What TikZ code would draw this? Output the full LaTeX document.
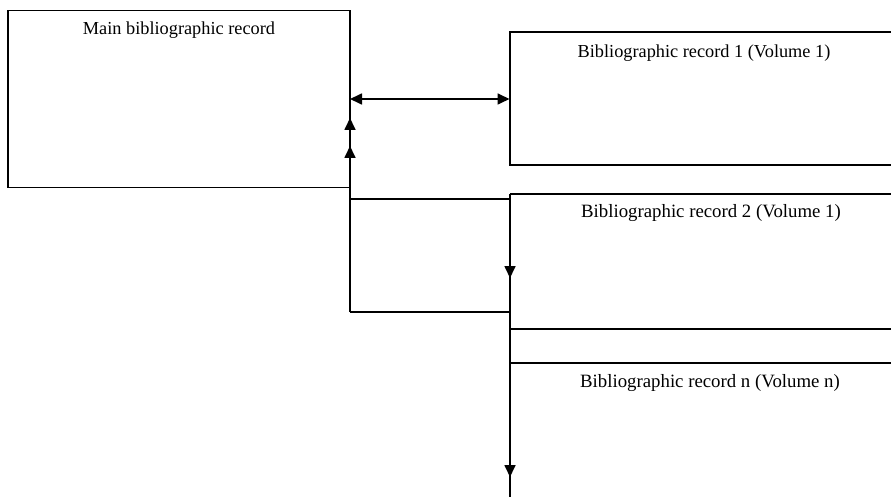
\documentclass[tikz,border=0pt]{standalone}
\usepackage{fontspec}
\setmainfont{Liberation Serif}
\usetikzlibrary{arrows.meta}
\begin{document}
\begin{tikzpicture}[x=1pt,y=-1pt,
  line/.style={line width=1.7pt},
  tip/.style={line width=1.7pt,-{Triangle[length=12pt,width=11pt]}},
  dtip/.style={line width=1.7pt,{Triangle[length=12pt,width=11pt]}-{Triangle[length=12pt,width=11pt]}},
  lbl/.style={anchor=base,inner sep=0pt,font=\fontsize{18.3pt}{22pt}\selectfont},
  lblb/.style={anchor=base,inner sep=0pt,font=\fontsize{18.8pt}{22pt}\selectfont}]
\useasboundingbox[fill=white] (0,0) rectangle (891,497);
% main box
\node[draw,line width=1.7pt,minimum width=342pt,minimum height=177pt,inner sep=0pt,outer sep=0pt] (main) at (179,99) {};
\node[lbl] (mainlbl) at (179,35) {Main bibliographic record};
% box 1
\coordinate (b1tl) at (510,32);
\coordinate (b1tr) at (891,32);
\coordinate (b1bl) at (510,165);
\coordinate (b1br) at (891,165);
\draw[line] (b1tr) -- (b1tl) -- (b1bl) -- (b1br);
\node[lbl] (b1lbl) at (704,57.5) {Bibliographic record 1 (Volume 1)};
% box 2
\coordinate (b2tl) at (510,194);
\coordinate (b2tr) at (891,194);
\coordinate (b2bl) at (510,329);
\coordinate (b2br) at (891,329);
\draw[line] (b2tl) -- (b2tr);
\draw[line] (b2bl) -- (b2br);
\node[lblb] (b2lbl) at (711,217.7) {Bibliographic record 2 (Volume 1)};
% box n
\coordinate (bntl) at (510,363);
\coordinate (bntr) at (891,363);
\draw[line] (bntl) -- (bntr);
\node[lblb] (bnlbl) at (710,387.7) {Bibliographic record n (Volume n)};
% double arrow
\coordinate (dl) at (350,99);
\coordinate (dr) at (509.5,99);
\draw[dtip] (dl) -- (dr);
% vertical at main right side
\coordinate (vtop) at (350,99);
\coordinate (vbot) at (350,312);
\draw[line] (vbot) -- (vtop);
\coordinate (ua1s) at (350,132);
\coordinate (ua1e) at (350,118);
\coordinate (ua2s) at (350,160);
\coordinate (ua2e) at (350,146);
\draw[tip] (ua1s) -- (ua1e);
\draw[tip] (ua2s) -- (ua2e);
% connectors to the right vertical
\coordinate (c1l) at (350,199);
\coordinate (c1r) at (510,199);
\coordinate (c2l) at (350,312);
\coordinate (c2r) at (510,312);
\draw[line] (c1l) -- (c1r);
\draw[line] (c2l) -- (c2r);
% right vertical
\coordinate (rbot) at (510,497);
\draw[line] (b2tl) -- (rbot);
\coordinate (da1s) at (510,262);
\coordinate (da1e) at (510,278);
\coordinate (da2s) at (510,462);
\coordinate (da2e) at (510,477);
\draw[tip] (da1s) -- (da1e);
\draw[tip] (da2s) -- (da2e);
\end{tikzpicture}
\end{document}
